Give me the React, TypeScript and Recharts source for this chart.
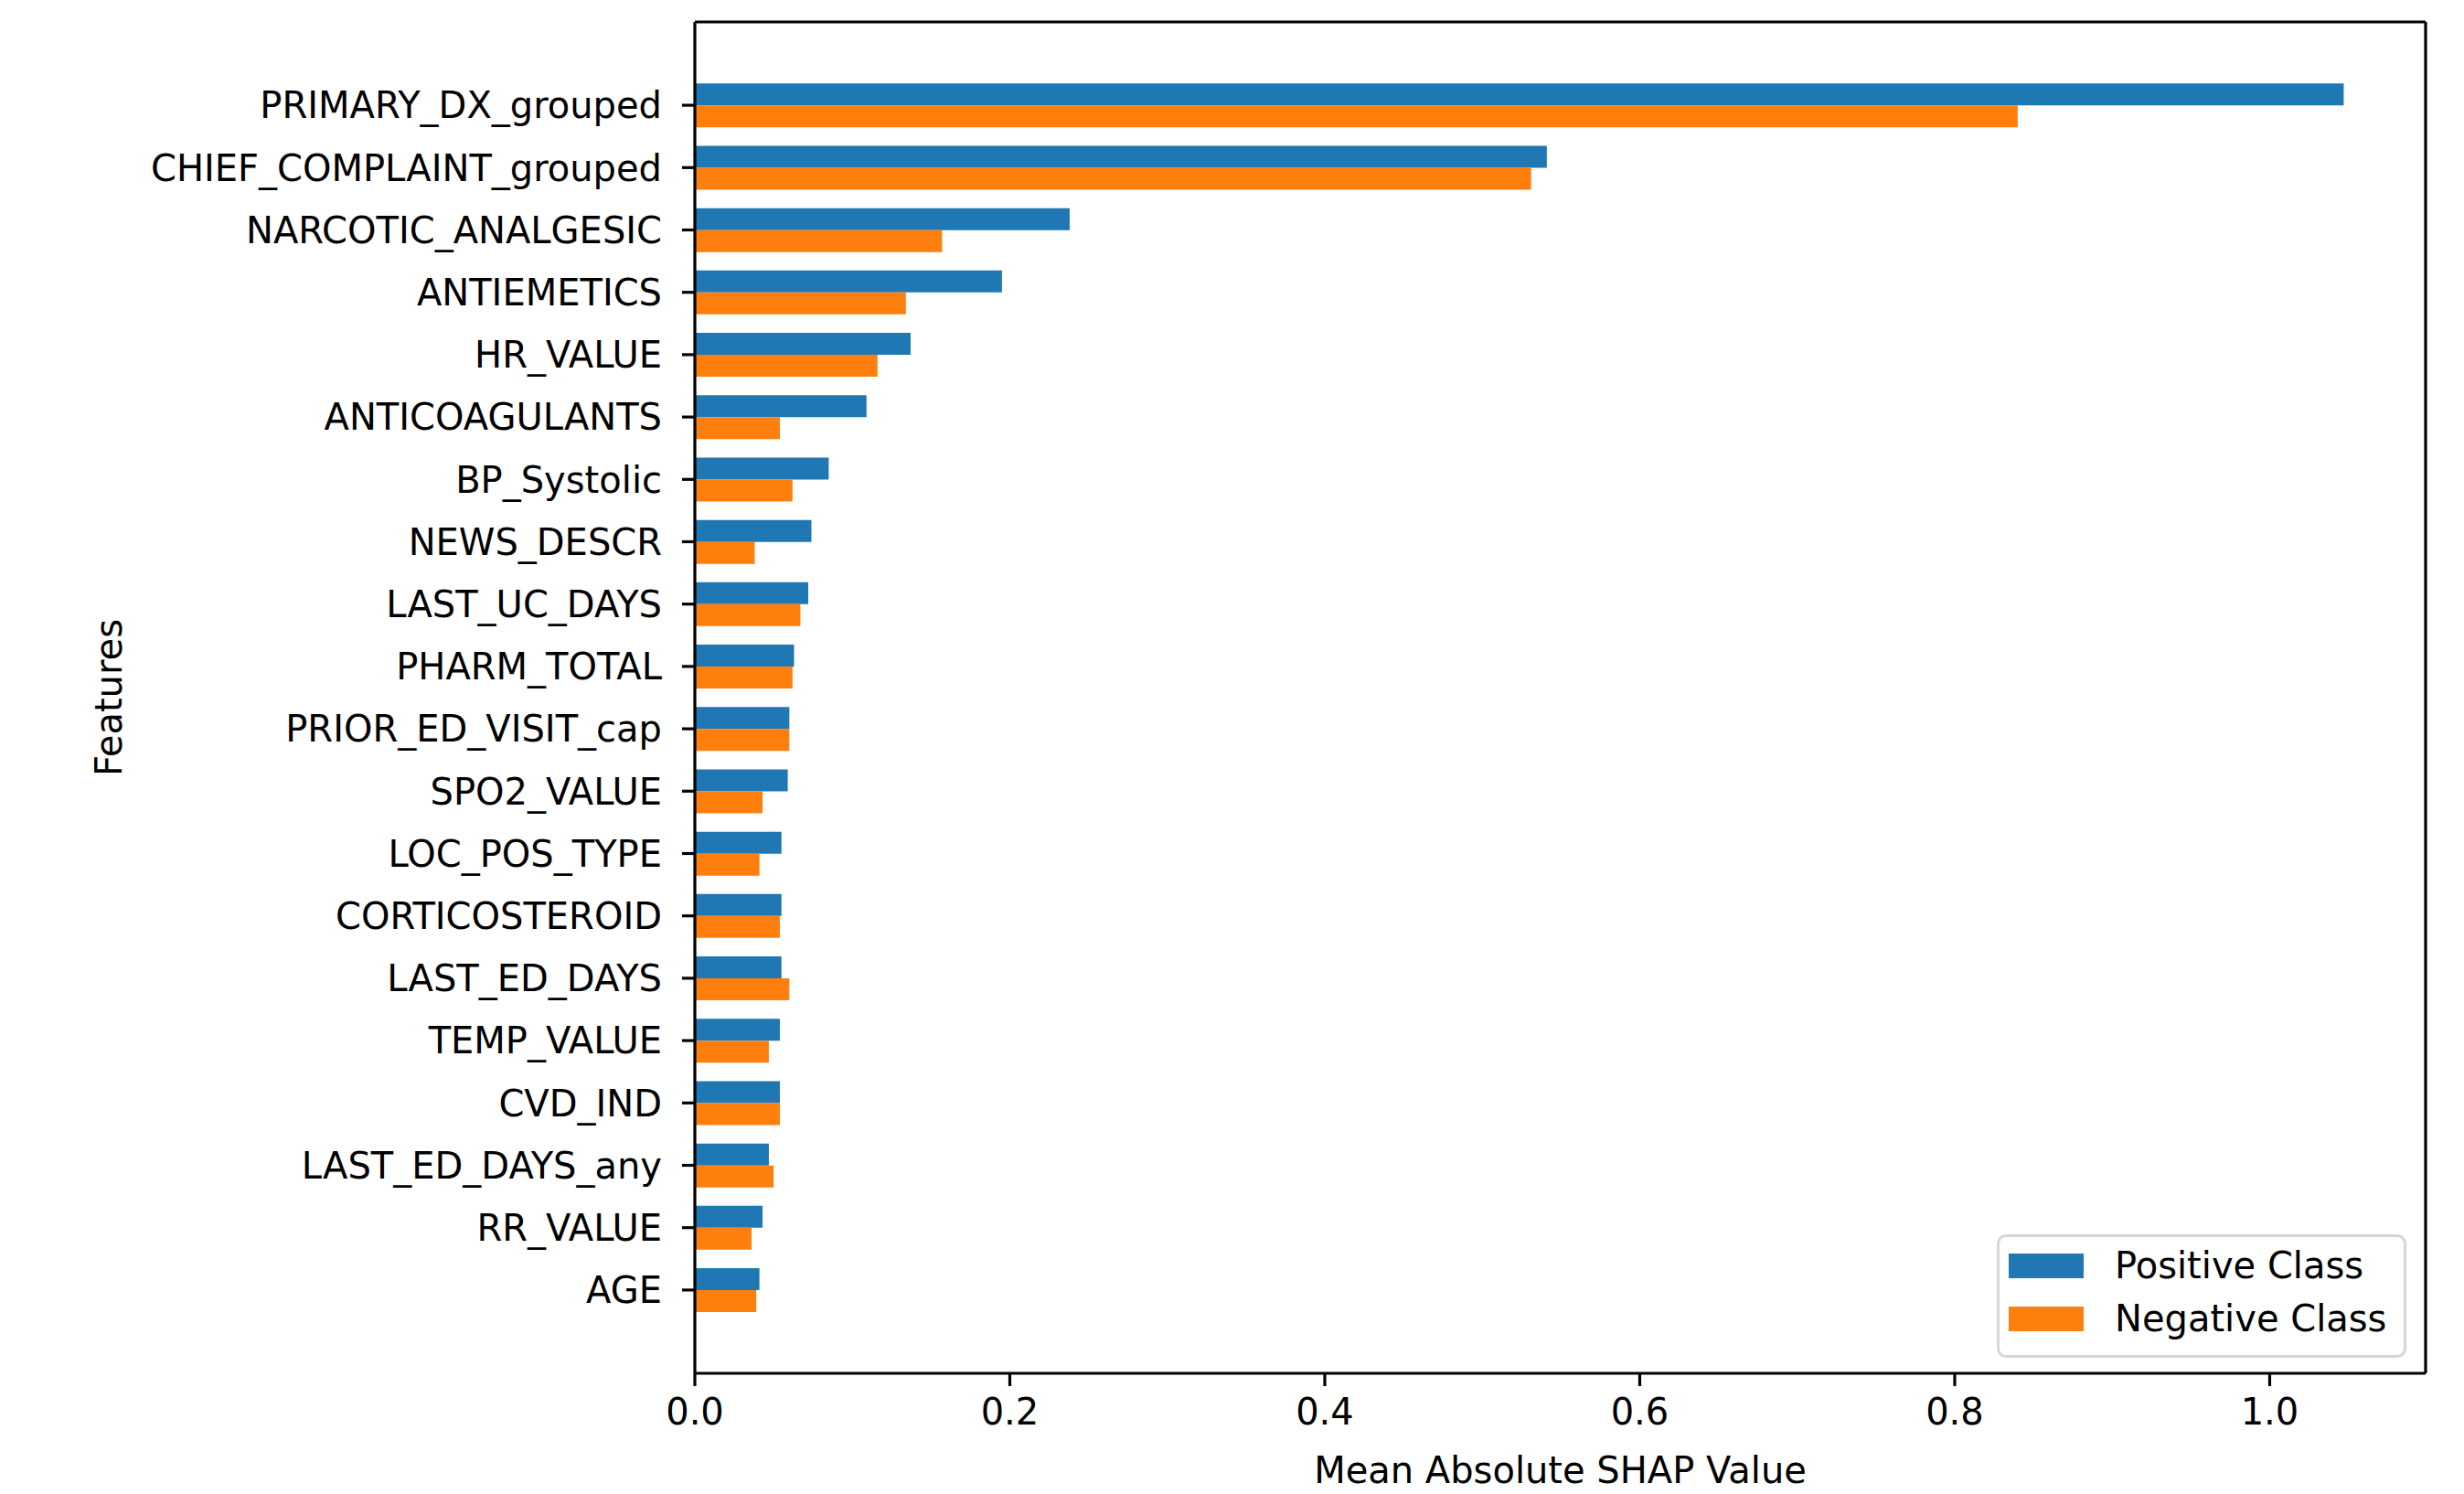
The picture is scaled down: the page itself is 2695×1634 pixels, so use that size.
import React from 'react';
import { BarChart, Bar, XAxis, YAxis, Legend } from 'recharts';

const FEATURES = [
    'PRIMARY_DX_grouped',
    'CHIEF_COMPLAINT_grouped',
    'NARCOTIC_ANALGESIC',
    'ANTIEMETICS',
    'HR_VALUE',
    'ANTICOAGULANTS',
    'BP_Systolic',
    'NEWS_DESCR',
    'LAST_UC_DAYS',
    'PHARM_TOTAL',
    'PRIOR_ED_VISIT_cap',
    'SPO2_VALUE',
    'LOC_POS_TYPE',
    'CORTICOSTEROID',
    'LAST_ED_DAYS',
    'TEMP_VALUE',
    'CVD_IND',
    'LAST_ED_DAYS_any',
    'RR_VALUE',
    'AGE',
];

const POSITIVE_CLASS = [
    1.047, 0.541, 0.238, 0.195, 0.137, 0.109, 0.085, 0.074, 0.072, 0.063,
    0.06, 0.059, 0.055, 0.055, 0.055, 0.054, 0.054, 0.047, 0.043, 0.041,
];

const NEGATIVE_CLASS = [
    0.84, 0.531, 0.157, 0.134, 0.116, 0.054, 0.062, 0.038, 0.067, 0.062,
    0.06, 0.043, 0.041, 0.054, 0.06, 0.047, 0.054, 0.05, 0.036, 0.039,
];

const X_TICKS = [0, 0.2, 0.4, 0.6, 0.8, 1.0];
const X_MAX = 1.099;

const BLUE = '#1f77b4';
const ORANGE = '#ff7f0e';
const FONT = '"DejaVu Sans", sans-serif';

const data = FEATURES.map((feature, i) => ({
    feature,
    positive: POSITIVE_CLASS[i],
    negative: NEGATIVE_CLASS[i],
}));

const SERIES = [
    { key: 'positive', name: 'Positive Class', color: BLUE },
    { key: 'negative', name: 'Negative Class', color: ORANGE },
];

const axisLine = { stroke: '#000', strokeWidth: 3.2 };
const tickLine = { stroke: '#000', strokeWidth: 3.2 };
const tickStyle = { fill: '#000', fontSize: 40, fontFamily: FONT };

function renderLegend() {
    return (
        <div
            style={{
                boxSizing: 'border-box',
                width: 448,
                height: 135,
                border: '3px solid #d6d6d6',
                borderRadius: 10,
                background: 'rgba(255,255,255,0.8)',
                padding: '2px 0 0 10px',
                fontFamily: FONT,
                fontSize: 40,
                color: '#000',
            }}
        >
            {SERIES.map((s) => (
                <div key={s.key} style={{ display: 'flex', alignItems: 'center', height: 58 }}>
                    <div style={{ width: 82, height: 27, background: s.color, marginRight: 34 }} />
                    <span style={{ lineHeight: '40px' }}>{s.name}</span>
                </div>
            ))}
        </div>
    );
}

function FeaturesLabel(props: any) {
    const vb = props.viewBox || { x: 0, y: 24, width: 760, height: 1478 };
    const x = vb.x + 133;
    const y = vb.y + vb.height / 2;
    return (
        <text
            x={x}
            y={y}
            transform={`rotate(-90, ${x}, ${y})`}
            textAnchor="middle"
            fill="#000"
            fontSize={40}
            fontFamily={FONT}
        >
            Features
        </text>
    );
}

export default function App() {
    return (
        <div style={{ position: 'absolute', left: 0, top: 0, width: 2695, height: 1634, background: '#fff' }}>
            <BarChart
                width={2695}
                height={1634}
                data={data}
                layout="vertical"
                margin={{ top: 23, right: 41, bottom: 0, left: 0 }}
                barCategoryGap="15%"
                barGap={0}
            >
                <XAxis
                    type="number"
                    domain={[0, X_MAX]}
                    ticks={X_TICKS}
                    interval={0}
                    allowDataOverflow
                    height={132}
                    axisLine={axisLine}
                    tickLine={tickLine}
                    tickSize={14}
                    tickMargin={14}
                    tick={tickStyle}
                    tickFormatter={(v: number) => v.toFixed(1)}
                    label={{
                        value: 'Mean Absolute SHAP Value',
                        position: 'insideBottom',
                        offset: 12,
                        fill: '#000',
                        fontSize: 40,
                        fontFamily: FONT,
                    }}
                />
                <XAxis
                    xAxisId="top"
                    orientation="top"
                    type="number"
                    domain={[0, X_MAX]}
                    ticks={X_TICKS}
                    height={1}
                    tick={false}
                    tickLine={false}
                    axisLine={axisLine}
                />
                <YAxis
                    type="category"
                    dataKey="feature"
                    width={760}
                    interval={0}
                    padding={{ top: 57, bottom: 57 }}
                    axisLine={axisLine}
                    tickLine={tickLine}
                    tickSize={14}
                    tickMargin={22}
                    tick={tickStyle}
                    label={<FeaturesLabel />}
                />
                <YAxis
                    yAxisId="right"
                    orientation="right"
                    type="category"
                    dataKey="feature"
                    width={1}
                    padding={{ top: 57, bottom: 57 }}
                    tick={false}
                    tickLine={false}
                    axisLine={axisLine}
                />
                <Legend
                    layout="horizontal"
                    verticalAlign="middle"
                    align="center"
                    content={renderLegend}
                    wrapperStyle={{ left: 2184, top: 1350, width: 448, height: 135 }}
                />
                {SERIES.map((s) => (
                    <Bar
                        key={s.key}
                        dataKey={s.key}
                        name={s.name}
                        fill={s.color}
                        isAnimationActive={false}
                    />
                ))}
            </BarChart>
        </div>
    );
}
